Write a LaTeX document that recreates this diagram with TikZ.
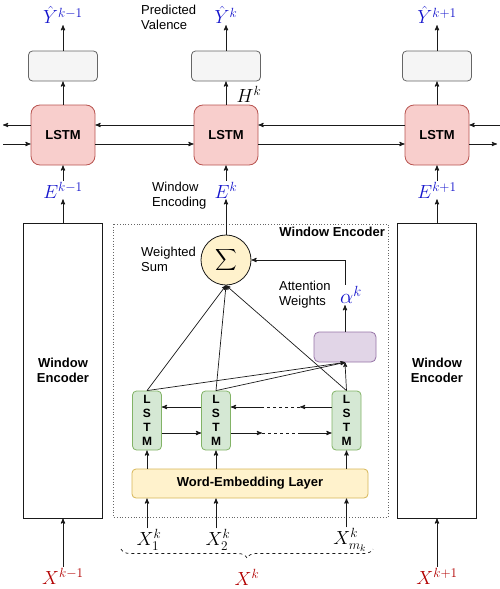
\RequirePackage{fix-cm}
\documentclass[tikz,border=0pt]{standalone}
\usepackage{amsmath,amssymb}
\usepackage{fontspec}
\setmainfont{Liberation Sans}
\usetikzlibrary{arrows,decorations.pathreplacing}
\definecolor{linegrey}{RGB}{26, 26, 26}
\definecolor{outfill}{RGB}{245, 245, 245}
\definecolor{outedge}{RGB}{102, 102, 102}
\definecolor{lstmfill}{RGB}{248, 206, 204}
\definecolor{lstmedge}{RGB}{184, 84, 80}
\definecolor{wordfill}{RGB}{213, 232, 212}
\definecolor{wordedge}{RGB}{130, 179, 102}
\definecolor{attnfill}{RGB}{225, 213, 231}
\definecolor{attnedge}{RGB}{150, 115, 166}
\definecolor{embedfill}{RGB}{255, 242, 204}
\definecolor{embededge}{RGB}{214, 182, 86}
\definecolor{labelblue}{RGB}{20, 20, 204}
\definecolor{labelred}{RGB}{178, 0, 0}

\begin{document}
\begin{tikzpicture}
  [
    x=1pt, y=-1pt,
    flow/.style={line width=0.9pt, draw=linegrey, ->, >=stealth'},
    link/.style={line width=0.9pt, draw=linegrey},
    outbox/.style={draw=outedge, fill=outfill, line width=0.8pt, rounded corners=4pt, minimum width=69pt, minimum height=30pt},
    bilstm/.style={draw=lstmedge, fill=lstmfill, line width=0.8pt, rounded corners=9pt, minimum width=64pt, minimum height=60pt, font=\bfseries\fontsize{13}{15}\selectfont},
    encoder/.style={draw=linegrey, line width=0.9pt, minimum width=79pt, minimum height=295pt, align=center, font=\bfseries\fontsize{13}{15}\selectfont},
    wordlstm/.style={draw=wordedge, fill=wordfill, line width=0.8pt, rounded corners=4pt, minimum width=29pt, minimum height=59pt, inner sep=0pt, align=center, font=\bfseries\fontsize{12}{14}\selectfont},
    attn/.style={draw=attnedge, fill=attnfill, line width=0.8pt, rounded corners=5pt, minimum width=62pt, minimum height=30pt},
    embed/.style={draw=embededge, fill=embedfill, line width=0.8pt, rounded corners=4pt, minimum width=236pt, minimum height=29pt, font=\bfseries\fontsize{13}{15}\selectfont},
    sumnode/.style={circle, draw=linegrey, fill=embedfill, line width=0.8pt, minimum size=50pt, inner sep=0pt, font=\fontsize{15}{17}\selectfont},
    yhat/.style={text=labelblue, inner sep=1pt, font=\fontsize{19}{21}\selectfont},
    enc/.style={text=labelblue, inner sep=1pt, font=\fontsize{19}{21}\selectfont},
    xin/.style={text=labelred, inner sep=1pt, font=\fontsize{19}{21}\selectfont},
    word/.style={inner sep=1pt, font=\fontsize{19}{21}\selectfont},
    note/.style={align=left, inner sep=0pt, font=\fontsize{13}{15}\selectfont}
  ]
  \useasboundingbox (0,0) rectangle (500,589);

  % window level
  \node[outbox] (out1) at (63, 66) {};
  \node[outbox] (out2) at (226, 66) {};
  \node[outbox] (out3) at (437, 66) {};
  \node[yhat] (y1) at (63, 15) {$\hat{Y}^{k-1}$};
  \node[yhat] (y2) at (226, 15) {$\hat{Y}^{k}$};
  \node[yhat] (y3) at (437, 15) {$\hat{Y}^{k+1}$};
  \node[note, anchor=west] (pred) at (141, 17) {Predicted\\Valence};

  \node[bilstm] (lstm1) at (63, 135) {LSTM};
  \node[bilstm] (lstm2) at (226, 135) {LSTM};
  \node[bilstm] (lstm3) at (437, 135) {LSTM};
  \node[word] (hk) at (249, 94) {$H^{k}$};

  \node[enc] (e1) at (63, 190) {$E^{k-1}$};
  \node[enc] (e2) at (226, 190) {$E^{k}$};
  \node[enc] (e3) at (437, 190) {$E^{k+1}$};
  \node[note, anchor=west] (wenc) at (152, 196) {Window\\Encoding};

  \node[encoder] (win1) at (63, 370.5) {Window\\Encoder};
  \node[encoder] (win3) at (437, 370.5) {Window\\Encoder};
  \node[xin] (x1) at (63, 576) {$X^{k-1}$};
  \node[xin] (x3) at (437, 576) {$X^{k+1}$};

  \coordinate (farleftb) at (3, 125);
  \coordinate (farleftf) at (3, 144);
  \coordinate (farrightb) at (500, 125);
  \coordinate (farrightf) at (497, 144);

  \foreach \i in {1,2,3} {
    \draw[flow] (out\i.north) -- (y\i.south);
    \draw[flow] (lstm\i.north) -- (out\i.south);
    \draw[flow] (e\i.north) -- (lstm\i.south);
  }
  \foreach \i in {1,3} {
    \draw[flow] (win\i.north) -- (e\i.south);
    \draw[flow] (x\i.north) -- (win\i.south);
  }

  \draw[flow] ([yshift=10pt]lstm1.west) -- (farleftb);
  \draw[flow] ([yshift=10pt]lstm2.west) -- ([yshift=10pt]lstm1.east);
  \draw[flow] ([yshift=10pt]lstm3.west) -- ([yshift=10pt]lstm2.east);
  \draw[flow] (farrightb) -- ([yshift=10pt]lstm3.east);
  \draw[flow] (farleftf) -- ([yshift=-9pt]lstm1.west);
  \draw[flow] ([yshift=-9pt]lstm1.east) -- ([yshift=-9pt]lstm2.west);
  \draw[flow] ([yshift=-9pt]lstm2.east) -- ([yshift=-9pt]lstm3.west);
  \draw[flow] ([yshift=-9pt]lstm3.east) -- (farrightf);

  % inside the middle window encoder
  \draw[dotted, draw=outedge, line width=0.8pt] (113, 224) rectangle (388, 517);
  \node[anchor=east, inner sep=0pt, font=\bfseries\fontsize{13}{15}\selectfont] (wtitle) at (385, 232) {Window Encoder};

  \node[sumnode] (sum) at (226, 260) {$\displaystyle\sum$};
  \node[note, anchor=west] (wsum) at (141, 259) {Weighted\\Sum};
  \node[attn] (attn) at (345, 347) {};
  \node[text=labelblue, inner sep=1pt, font=\fontsize{21}{23}\selectfont] (alpha) at (351, 295) {$\alpha^{k}$};
  \node[note, anchor=west] (aw) at (279, 295) {Attention\\Weights};

  \node[wordlstm] (l1) at (147, 420.5) {L\\S\\T\\M};
  \node[wordlstm] (l2) at (216, 420.5) {L\\S\\T\\M};
  \node[wordlstm] (l3) at (346.5, 420.5) {L\\S\\T\\M};
  \node[embed] (emb) at (250, 483.5) {Word-Embedding Layer};

  \node[word] (w1) at (149, 540) {$X^{k}_{1}$};
  \node[word] (w2) at (218, 540) {$X^{k}_{2}$};
  \node[word] (w3) at (350, 540) {$X^{k}_{m_k}$};
  \node[xin] (x2) at (247, 577) {$X^{k}$};

  \draw[flow] (emb.north -| l1.south) -- (l1.south);
  \draw[flow] (emb.north -| l2.south) -- (l2.south);
  \draw[flow] (emb.north -| l3.south) -- (l3.south);
  \draw[flow] (w1.north -| l1.south) -- (l1.south |- emb.south);
  \draw[flow] (w2.north -| l2.south) -- (l2.south |- emb.south);
  \draw[flow] (w3.north -| l3.south) -- (l3.south |- emb.south);

  \coordinate (bk1) at (300, 407);
  \coordinate (bk2) at (262, 407);
  \coordinate (fw1) at (262, 433);
  \coordinate (fw2) at (300, 433);
  \draw[flow] ([yshift=13.5pt]l2.west) -- ([yshift=13.5pt]l1.east);
  \draw[flow] ([yshift=13.5pt]l3.west) -- (bk1);
  \draw[link, dashed] (bk1) -- (bk2);
  \draw[flow] (bk2) -- ([yshift=13.5pt]l2.east);
  \draw[flow] ([yshift=-12.5pt]l1.east) -- ([yshift=-12.5pt]l2.west);
  \draw[flow] ([yshift=-12.5pt]l2.east) -- (fw1);
  \draw[link, dashed] (fw1) -- (fw2);
  \draw[flow] (fw2) -- ([yshift=-12.5pt]l3.west);

  \foreach \i in {1,2,3} {
    \draw[flow, line width=0.7pt] (l\i.north) -- (sum.south);
    \draw[flow, line width=0.7pt] (l\i.north) -- (attn.south);
  }
  \draw[flow] (attn.north) -- (alpha.south -| attn.north);
  \draw[flow] (alpha.north -| attn.north) |- (sum.east);
  \draw[flow] (sum.north) -- (e2.south);

  \draw[link, dashed, line width=0.7pt, decorate, decoration={brace, mirror, amplitude=9pt}] (121, 549) -- (373, 549);
\end{tikzpicture}
\end{document}
